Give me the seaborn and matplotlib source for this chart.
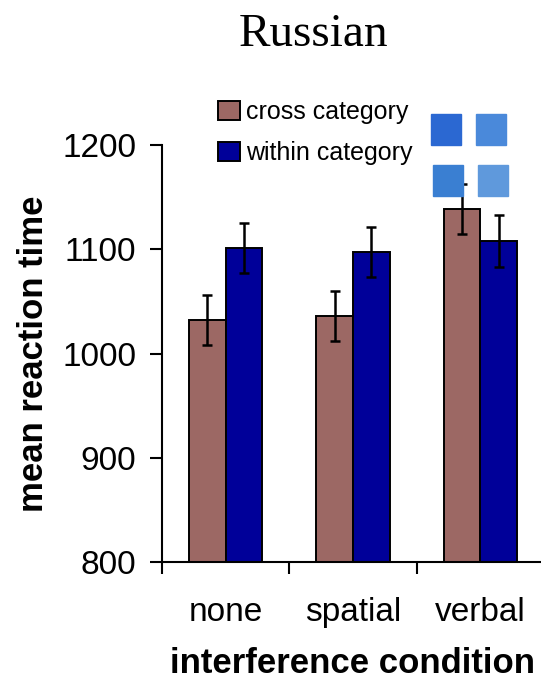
import numpy as np
import pandas as pd
import matplotlib
matplotlib.use("Agg")
import matplotlib.pyplot as plt
import seaborn as sns
from matplotlib.patches import Rectangle

# values
conditions = ["none", "spatial", "verbal"]
groups = ["cross category", "within category"]
cross_rt = [1032, 1036, 1139]
within_rt = [1101, 1097, 1108]
cross_se = [24, 24, 24]
within_se = [24, 24, 25]
yticks = [800, 900, 1000, 1100, 1200]

df = pd.DataFrame({
    "condition": conditions * 2,
    "group": [groups[0]] * 3 + [groups[1]] * 3,
    "rt": cross_rt + within_rt,
})
err = {groups[0]: cross_se, groups[1]: within_se}

sns.set_style("ticks")
plt.rcParams["font.family"] = ["Liberation Sans", "DejaVu Sans"]
plt.rcParams["text.color"] = "black"
plt.rcParams["axes.labelcolor"] = "black"

W, H = 541, 684
fig = plt.figure(figsize=(W / 100, H / 100), dpi=100)
ax = fig.add_axes([162 / W, 1 - 562 / H, 382 / W, 417 / H])

sns.barplot(data=df, x="condition", y="rt", hue="group", order=conditions,
            hue_order=groups,
            palette={"cross category": "#9c6864", "within category": "#000099"},
            width=0.575, errorbar=None, saturation=1, edgecolor="black",
            linewidth=1.4, ax=ax)

# error bars at the bar centres
for grp, cont in zip(groups, ax.containers):
    xs = [p.get_x() + p.get_width() / 2 for p in cont]
    hs = [p.get_height() for p in cont]
    ax.errorbar(xs, hs, yerr=err[grp], fmt="none", ecolor="black",
                elinewidth=1.8, capsize=3.8, capthick=1.8, zorder=5)

ax.set_ylim(800, 1200)
ax.set_xlim(-0.5, 2.5)
ax.set_yticks(yticks)
ax.set_xticks([-0.5, 0.5, 1.5, 2.5])
ax.set_xticklabels([])
ax.set_xticks([0, 1, 2], minor=True)
ax.set_xticklabels(conditions, minor=True)

for s in ["top", "right"]:
    ax.spines[s].set_visible(False)
for s in ["left", "bottom"]:
    ax.spines[s].set_linewidth(1.5)
    ax.spines[s].set_color("black")

ax.tick_params(axis="both", which="both", colors="black", labelcolor="black")
ax.tick_params(axis="both", which="major", direction="out", length=8.6,
               width=1.5, labelsize=24)
ax.tick_params(axis="y", pad=10)
ax.tick_params(axis="x", which="minor", length=0, labelsize=24, pad=25)

ax.set_ylabel("mean reaction time", fontsize=25, fontweight="bold", labelpad=9)
ax.set_xlabel("interference condition", fontsize=25, fontweight="bold",
              labelpad=14)

ax.legend(loc="upper left", bbox_to_anchor=(218 / W, 1 - 100 / H),
          bbox_transform=fig.transFigure, frameon=False, fontsize=18,
          handlelength=0.88, handleheight=0.8, handletextpad=0.25,
          labelspacing=0.68, borderpad=0, borderaxespad=0)

# the four blue squares in the top-right corner
squares = [(431, 114, "#2b68d2"), (476, 114, "#4a89da"),
           (433, 165, "#3a7fd2"), (478, 165, "#5f99dc")]
for x0, y0, c in squares:
    fig.add_artist(Rectangle((x0 / W, 1 - (y0 + 31) / H), 30 / W, 31 / H,
                             transform=fig.transFigure, color=c, zorder=10))

fig.text(314 / W, 1 - 46 / H, "Russian", family="Liberation Serif",
         fontsize=34, ha="center", va="baseline")

fig.savefig("out.png", dpi=100)
